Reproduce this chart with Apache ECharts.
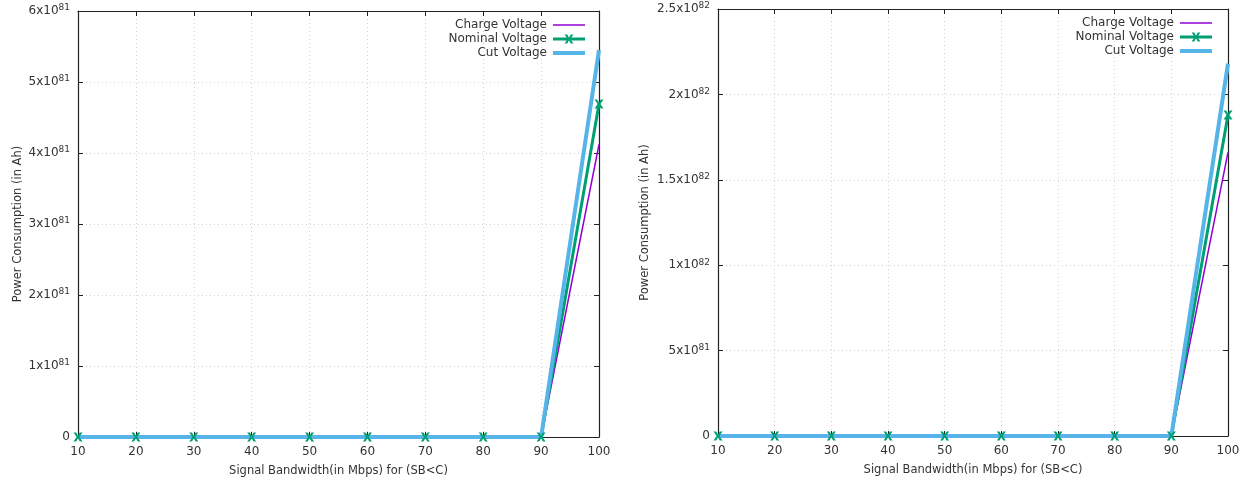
<!DOCTYPE html>
<html>
<head>
<meta charset="utf-8">
<script src="https://cdn.jsdelivr.net/npm/echarts@6/dist/echarts.min.js"></script>
<style>html,body{margin:0;padding:0;background:#fff}#c{width:1244px;height:482px}</style>
</head>
<body>
<div id="c"></div>
<script>
const bandwidth = [10, 20, 30, 40, 50, 60, 70, 80, 90, 100];
const leftCharge  = [0, 0, 0, 0, 0, 0, 0, 0, 0, 4.12e81];
const leftNominal = [0, 0, 0, 0, 0, 0, 0, 0, 0, 4.69e81];
const leftCut     = [0, 0, 0, 0, 0, 0, 0, 0, 0, 5.45e81];
const rightCharge  = [0, 0, 0, 0, 0, 0, 0, 0, 0, 1.66e82];
const rightNominal = [0, 0, 0, 0, 0, 0, 0, 0, 0, 1.88e82];
const rightCut     = [0, 0, 0, 0, 0, 0, 0, 0, 0, 2.18e82];
const seriesNames = ['Charge Voltage', 'Nominal Voltage', 'Cut Voltage'];
const xTitle = 'Signal Bandwidth(in Mbps) for (SB<C)';
const yTitle = 'Power Consumption (in Ah)';

const FONT = 'DejaVu Sans';
const TXT = '#333';
const colors = ['#9400d3', '#009e73', '#56b4e9'];
const widths = [1.5, 3, 4];

function sciLabel(v) {
  if (v === 0) return '{b|0}';
  const e = Math.floor(Math.log10(v) + 1e-9);
  const m = parseFloat((v / Math.pow(10, e)).toFixed(2));
  return '{b|' + m + 'x10}{s|' + e + '}';
}
const rich = {
  b: {fontSize: 12, fontFamily: FONT, color: TXT},
  s: {fontSize: 9, fontFamily: FONT, color: TXT, padding: [0, 0, 6, 0]}
};

const markerPath = 'path://M0,0 L3,0 L5,3.5 L7,0 L10,0 L6.5,5 L10,10 L7,10 L5,6.5 L3,10 L0,10 L3.5,5 Z';

function xAxes(gi) {
  return [
    {
      type: 'value', gridIndex: gi, min: 10, max: 100, interval: 10,
      name: xTitle, nameLocation: 'middle', nameGap: 28,
      nameTextStyle: {fontFamily: FONT, fontSize: 11.5, color: TXT},
      axisLine: {show: true, onZero: false, lineStyle: {color: '#222', width: 1.2}},
      axisTick: {show: true, inside: true, length: 5, lineStyle: {color: '#222'}},
      axisLabel: {fontFamily: FONT, fontSize: 12, color: TXT, margin: 9},
      splitLine: {show: true, lineStyle: {type: [1, 3], color: '#d4d4d4'}}
    },
    {
      type: 'value', gridIndex: gi, min: 10, max: 100, interval: 10, position: 'top',
      axisLine: {show: true, onZero: false, lineStyle: {color: '#222', width: 1.2}},
      axisTick: {show: true, inside: true, length: 5, lineStyle: {color: '#222'}},
      axisLabel: {show: false}, splitLine: {show: false}
    }
  ];
}
function yAxes(gi, max, interval, gap) {
  return [
    {
      type: 'value', gridIndex: gi, min: 0, max: max, interval: interval,
      name: yTitle, nameLocation: 'middle', nameGap: gap, nameRotate: 90,
      nameTextStyle: {fontFamily: FONT, fontSize: 11.5, color: TXT},
      axisLine: {show: true, onZero: false, lineStyle: {color: '#222', width: 1.2}},
      axisTick: {show: true, inside: true, length: 5, lineStyle: {color: '#222'}},
      axisLabel: {formatter: sciLabel, rich: rich, margin: 8},
      splitLine: {show: true, lineStyle: {type: [1, 3], color: '#d4d4d4'}}
    },
    {
      type: 'value', gridIndex: gi, min: 0, max: max, interval: interval, position: 'right',
      axisLine: {show: true, onZero: false, lineStyle: {color: '#222', width: 1.2}},
      axisTick: {show: true, inside: true, length: 5, lineStyle: {color: '#222'}},
      axisLabel: {show: false}, splitLine: {show: false}
    }
  ];
}
function mkSeries(gi, arrs) {
  return arrs.map((arr, i) => ({
    name: seriesNames[i], type: 'line',
    xAxisIndex: gi * 2, yAxisIndex: gi * 2,
    data: bandwidth.map((x, k) => [x, arr[k]]),
    symbol: i === 1 ? markerPath : 'circle',
    symbolSize: 9, showSymbol: i === 1,
    z: i === 1 ? 4 : 2 + i,
    lineStyle: {color: colors[i], width: widths[i]},
    itemStyle: {color: colors[i], opacity: i === 1 ? 1 : 0},
    animation: false
  }));
}
function legend(right, top) {
  return {
    orient: 'vertical', align: 'right', right: right, top: top,
    itemWidth: 32, itemHeight: 11, itemGap: 2,
    data: seriesNames,
    lineStyle: {width: 'inherit'},
    textStyle: {fontFamily: FONT, fontSize: 12, color: TXT, lineHeight: 12, padding: [0, 1, 0, 0]},
    selectedMode: false
  };
}

const chart = echarts.init(document.getElementById('c'), null, {renderer: 'canvas'});
chart.setOption({
  animation: false,
  backgroundColor: '#fff',
  grid: [
    {left: 78, right: 645, top: 11, bottom: 45},
    {left: 718, right: 16, top: 9, bottom: 46}
  ],
  legend: [legend(652, 14), legend(25, 12)],
  xAxis: [...xAxes(0), ...xAxes(1)],
  yAxis: [...yAxes(0, 6e81, 1e81, 54), ...yAxes(1, 2.5e82, 5e81, 67)],
  series: [
    ...mkSeries(0, [leftCharge, leftNominal, leftCut]),
    ...mkSeries(1, [rightCharge, rightNominal, rightCut])
  ]
});
</script>
</body>
</html>
